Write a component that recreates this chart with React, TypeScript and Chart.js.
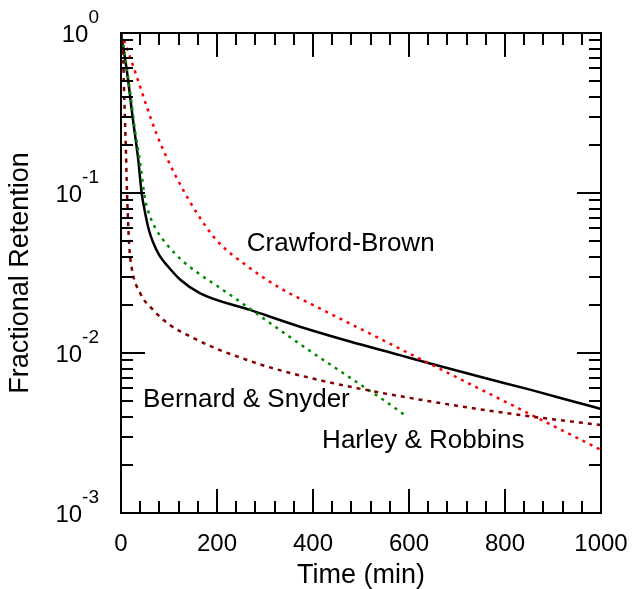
import React, { useEffect, useRef } from "react";
import { Chart, registerables } from "chart.js";

Chart.register(...registerables);

// ---- data ----
const blackT = [0, 12, 25, 36, 43, 50, 58, 67, 80, 98, 123, 165, 269, 373, 477, 581, 644, 748, 852, 956, 1000];
const blackV = [1.0, 0.587, 0.286, 0.161, 0.1, 0.0759, 0.0589, 0.049, 0.0407, 0.0347, 0.0288, 0.0236, 0.0186, 0.0146, 0.0118, 0.0097, 0.0086, 0.0071, 0.0059, 0.00485, 0.00447];

const crawfordT = [0, 10, 20, 36, 53, 74, 98, 123, 158, 199, 269, 338, 400, 500, 600, 700, 800, 900, 1000];
const crawfordV = [1.0, 0.841, 0.692, 0.501, 0.351, 0.234, 0.16, 0.1135, 0.075, 0.0507, 0.0339, 0.0248, 0.01995, 0.0141, 0.00995, 0.00703, 0.00497, 0.00351, 0.00248];

const harleyT = [0, 5, 19, 29, 40, 50, 60, 75, 95, 130, 165, 200, 250, 300, 350, 400, 450, 500, 550, 590];
const harleyV = [0.95, 0.82, 0.43, 0.248, 0.153, 0.092, 0.072, 0.058, 0.0479, 0.0372, 0.0309, 0.0263, 0.0207, 0.0162, 0.0127, 0.01, 0.00794, 0.00631, 0.00501, 0.00412];

const bernardT = [0, 2, 4.8, 6.2, 8.3, 10.4, 11.8, 14.6, 17.3, 22.3, 40, 67, 100, 150, 200, 250, 300, 400, 500, 600, 700, 800, 900, 1000];
const bernardV = [1.0, 0.85, 0.68, 0.46, 0.286, 0.178, 0.12, 0.068, 0.046, 0.034, 0.0236, 0.0186, 0.0151, 0.01245, 0.0106, 0.00933, 0.0083, 0.00692, 0.00596, 0.00525, 0.00468, 0.00422, 0.00385, 0.00355];

const xMajorTicks = [0, 200, 400, 600, 800, 1000];
const xMinorStep = 40;
const yDecadeExponents = [0, -1, -2, -3];

const annotations = [
  { text: "Crawford-Brown", x: 262, y: 0.0434 },
  { text: "Bernard & Snyder", x: 46, y: 0.00462 },
  { text: "Harley & Robbins", x: 419, y: 0.00255 },
];

const xTitle = "Time (min)";
const yTitle = "Fractional Retention";

const FONT = "'Liberation Sans', Arial, Helvetica, sans-serif";

function pts(t: number[], v: number[]) {
  return t.map((x, i) => ({ x, y: v[i] }));
}

const framePlugin = {
  id: "framePlugin",
  afterDraw(chart: any) {
    const ctx = chart.ctx as CanvasRenderingContext2D;
    const xs = chart.scales.x;
    const ys = chart.scales.y;
    const { left, right, top, bottom } = chart.chartArea;
    ctx.save();
    ctx.strokeStyle = "#000";
    ctx.fillStyle = "#000";
    ctx.lineWidth = 2;
    ctx.lineCap = "butt";
    // frame
    ctx.strokeRect(left, top, right - left, bottom - top);

    const MAJ = 24;
    const MIN = 12;
    ctx.beginPath();
    // x ticks
    for (let v = 0; v <= 1000; v += xMinorStep) {
      const px = Math.round(xs.getPixelForValue(v));
      const len = xMajorTicks.includes(v) ? MAJ : MIN;
      ctx.moveTo(px, bottom);
      ctx.lineTo(px, bottom - len);
      ctx.moveTo(px, top);
      ctx.lineTo(px, top + len);
    }
    // y ticks
    for (const e of yDecadeExponents) {
      const base = Math.pow(10, e);
      const py = Math.round(ys.getPixelForValue(base));
      ctx.moveTo(left, py);
      ctx.lineTo(left + MAJ, py);
      ctx.moveTo(right, py);
      ctx.lineTo(right - MAJ, py);
      if (e > -3) {
        for (let m = 2; m <= 9; m++) {
          const v = (m * base) / 10;
          const p = Math.round(ys.getPixelForValue(v));
          ctx.moveTo(left, p);
          ctx.lineTo(left + MIN, p);
          ctx.moveTo(right, p);
          ctx.lineTo(right - MIN, p);
        }
      }
    }
    ctx.stroke();

    // x labels
    ctx.font = `24px ${FONT}`;
    ctx.textAlign = "center";
    ctx.textBaseline = "alphabetic";
    for (const v of xMajorTicks) {
      ctx.fillText(String(v), xs.getPixelForValue(v), bottom + 38);
    }

    // y labels 10^e
    for (const e of yDecadeExponents) {
      const py = ys.getPixelForValue(Math.pow(10, e));
      const sup = String(e);
      ctx.font = `19px ${FONT}`;
      const wSup = ctx.measureText(sup).width;
      ctx.font = `24px ${FONT}`;
      const wBase = ctx.measureText("10").width;
      const rightEdge = left - 22;
      ctx.textAlign = "left";
      ctx.fillText("10", rightEdge - wSup - wBase, py + 9);
      ctx.font = `19px ${FONT}`;
      ctx.fillText(sup, rightEdge - wSup, py - 10);
    }

    // titles
    ctx.font = `27px ${FONT}`;
    ctx.textAlign = "center";
    ctx.textBaseline = "middle";
    ctx.fillText(xTitle, (left + right) / 2, 576);
    ctx.save();
    ctx.translate(21, (top + bottom) / 2);
    ctx.rotate(-Math.PI / 2);
    ctx.fillText(yTitle, 0, 0);
    ctx.restore();

    // annotations
    ctx.font = `26px ${FONT}`;
    ctx.textAlign = "left";
    ctx.textBaseline = "alphabetic";
    for (const a of annotations) {
      ctx.fillText(a.text, xs.getPixelForValue(a.x), ys.getPixelForValue(a.y));
    }
    ctx.restore();
  },
};

export default function App() {
  const ref = useRef<HTMLCanvasElement | null>(null);
  useEffect(() => {
    if (!ref.current) return;
    const common = {
      pointRadius: 0,
      fill: false,
      cubicInterpolationMode: "monotone" as const,
      borderCapStyle: "butt" as const,
    };
    const chart = new Chart(ref.current, {
      type: "line",
      data: {
        datasets: [
          { ...common, label: "Bernard & Snyder", data: pts(bernardT, bernardV), borderColor: "#800000", borderWidth: 2.5, borderDash: [4, 5] },
          { ...common, label: "Harley & Robbins", data: pts(harleyT, harleyV), borderColor: "#008a00", borderWidth: 2.5, borderDash: [3, 5] },
          { ...common, label: "Crawford-Brown", data: pts(crawfordT, crawfordV), borderColor: "#ff0000", borderWidth: 2.5, borderDash: [3, 5] },
          { ...common, label: "Total", data: pts(blackT, blackV), borderColor: "#000000", borderWidth: 2.5 },
        ],
      },
      options: {
        animation: false,
        responsive: false,
        maintainAspectRatio: false,
        layout: { padding: { left: 0, top: 33, right: 31, bottom: 0 } },
        plugins: { legend: { display: false }, tooltip: { enabled: false } },
        scales: {
          x: {
            type: "linear",
            min: 0,
            max: 1000,
            ticks: { display: false },
            grid: { display: false },
            border: { display: false },
            afterFit: (s: any) => { s.height = 76; },
          },
          y: {
            type: "logarithmic",
            min: 0.001,
            max: 1,
            ticks: { display: false },
            grid: { display: false },
            border: { display: false },
            afterFit: (s: any) => { s.width = 121; },
          },
        },
      },
      plugins: [framePlugin],
    });
    return () => chart.destroy();
  }, []);
  return (
    <div style={{ position: "fixed", left: 0, top: 0, width: 632, height: 589, background: "#fff" }}>
      <canvas ref={ref} width={632} height={589} style={{ width: 632, height: 589 }} />
    </div>
  );
}
